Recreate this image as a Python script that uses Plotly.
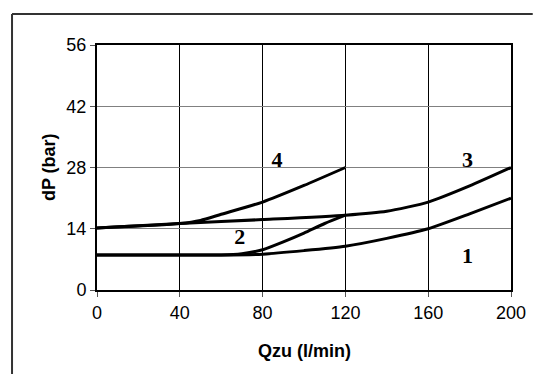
import plotly.graph_objects as go

# Data
q1 = [0, 40, 60, 80, 100, 120, 140, 160, 180, 200]
dp1 = [8, 8, 8, 8.2, 9, 10, 11.8, 14, 17.4, 21]

q2 = [0, 40, 60, 70, 80, 90, 100, 110, 120]
dp2 = [8, 8, 8, 8.3, 9.2, 11, 13, 15.2, 17.1]

q3 = [0, 40, 80, 120, 140, 160, 180, 200]
dp3 = [14.2, 15.2, 16.1, 17.1, 18, 20.1, 23.8, 28]

q4 = [0, 40, 50, 60, 80, 100, 120]
dp4 = [14.2, 15.2, 15.9, 17.3, 20.1, 23.9, 28]

curve_labels = ["1", "2", "3", "4"]
label_x = [179, 69, 179, 87]
label_y = [7.5, 11.8, 29.3, 29.3]

x_ticks = [0, 40, 80, 120, 160, 200]
y_ticks = [0, 14, 28, 42, 56]

x_title = "Qzu (l/min)"
y_title = "dP (bar)"

W, H = 538, 374
L, R, T, B = 97, 22, 45, 84
PW, PH = W - L - R, H - T - B

fig = go.Figure()
for qx, dy in [(q1, dp1), (q2, dp2), (q3, dp3), (q4, dp4)]:
    fig.add_trace(go.Scatter(x=qx, y=dy, mode="lines",
                             line=dict(color="black", width=3, shape="spline", smoothing=0.6),
                             showlegend=False, hoverinfo="skip"))

fig.add_trace(go.Scatter(x=label_x, y=label_y, mode="text", text=curve_labels,
                         textfont=dict(family="Liberation Serif", size=22, color="black"),
                         texttemplate="<b>%{text}</b>",
                         showlegend=False, hoverinfo="skip", cliponaxis=False))

fig.update_layout(
    width=W, height=H,
    margin=dict(l=L, r=R, t=T, b=B),
    paper_bgcolor="white", plot_bgcolor="white",
    font=dict(family="Liberation Sans", size=18, color="black"),
    xaxis=dict(range=[0, 200], tickvals=x_ticks, showgrid=True, gridcolor="black", gridwidth=1,
               showline=True, linecolor="black", linewidth=2, mirror=True,
               ticks="outside", ticklen=5, tickcolor="#555", zeroline=False),
    yaxis=dict(range=[0, 56], tickvals=y_ticks, showgrid=True, gridcolor="#808080", gridwidth=1,
               showline=True, linecolor="black", linewidth=2, mirror=True,
               ticks="outside", ticklen=5, tickcolor="#555", zeroline=False),
)

# axis titles placed as annotations (pixel centres converted to paper coords)
fig.add_annotation(text="<b>" + x_title + "</b>", xref="paper", yref="paper",
                   x=(307 - L) / PW, y=-(351 - T - PH) / PH, showarrow=False,
                   xanchor="center", yanchor="middle", font=dict(size=18))
fig.add_annotation(text="<b>" + y_title + "</b>", xref="paper", yref="paper",
                   x=(48 - L) / PW, y=0.5, showarrow=False, textangle=-90,
                   xanchor="center", yanchor="middle", font=dict(size=18))

# outer frame: only left and top edges are inside the picture
fl = (11 - L) / PW
fr = (W - L) / PW
fb = -(H - T - PH) / PH
ft = 1 + (T - 14) / PH
fig.add_shape(type="line", xref="paper", yref="paper", x0=fl, x1=fl, y0=fb, y1=ft,
              line=dict(color="#333", width=2), layer="below")
fig.add_shape(type="line", xref="paper", yref="paper", x0=fl, x1=fr, y0=ft, y1=ft,
              line=dict(color="#333", width=2), layer="below")

fig.write_html("out.html", config={"displayModeBar": False},
               post_script="document.documentElement.style.overflow='hidden';"
                           "document.body.style.margin='0px';document.body.style.overflow='hidden';")
